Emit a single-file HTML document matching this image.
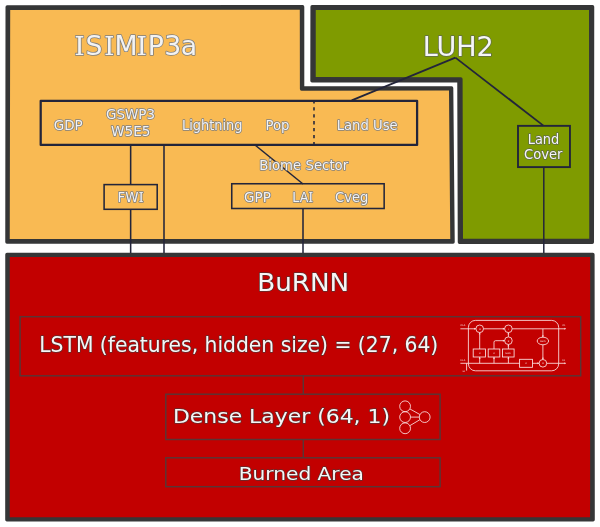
<!DOCTYPE html>
<html lang="en">
<head>
<meta charset="utf-8">
<title>BuRNN architecture</title>
<style>
  html, body { margin: 0; padding: 0; background: #ffffff; }
  body { width: 600px; height: 527px; overflow: hidden; }
  svg { display: block; }
  text { font-family: "DejaVu Sans", "Liberation Sans", sans-serif; fill: #f6f6f6; filter: url(#aa); }
  .t1 { fill: #f3f3f3; stroke: #7d7d7d; stroke-width: 1.55px; paint-order: stroke fill; stroke-linejoin: round; }
  .t2 { stroke: #5e6a4a; stroke-width: 1.5px; paint-order: stroke fill; stroke-linejoin: round; }
  .t3 { stroke: #5a3030; stroke-width: 1.4px; paint-order: stroke fill; stroke-linejoin: round; }
  .ln { stroke: #23253a; stroke-width: 1.55; fill: none; }
  .lg { stroke: #23253a; stroke-width: 1.8; fill: none; }
  .lr { stroke: #583636; stroke-width: 1.45; fill: none; }
  .ic { stroke: #fbe3e3; stroke-width: 0.85; fill: none; }
  .sf { font-family: "DejaVu Serif", "Liberation Serif", serif; }
</style>
</head>
<body>
<svg width="600" height="527" viewBox="0 0 600 527">
  <defs><filter id="aa" x="-5%" y="-30%" width="110%" height="160%"><feOffset dx="0" dy="0"/></filter></defs>
  <rect x="0" y="0" width="600" height="527" fill="#ffffff"/>

  <!-- ISIMIP3a block -->
  <path d="M7.20 6.90 L302.60 6.70 L302.60 87.95 L451.60 87.95 L453.05 241.95 L6.95 241.95 Z" fill="#353637" stroke="#353637" stroke-width="3.4" stroke-linejoin="round"/>
  <path d="M10.2 9.9 L299.8 9.75 L299.9 89.1 Q299.9 90.7 301.5 90.7 L449 90.6 L450.25 239.05 L9.75 239.05 Z" fill="#f9ba53"/>
  <!-- LUH2 block -->
  <path d="M312.10 6.70 L592.55 6.70 L592.30 242.20 L459.45 242.20 L458.95 80.85 L312.00 80.85 Z" fill="#353637" stroke="#353637" stroke-width="3.4" stroke-linejoin="round"/>
  <path d="M315.75 10 L589 10 L589.25 238.75 L463 238.75 L462.6 79 Q462.6 77.2 460.8 77.2 L315.75 77.1 Z" fill="#7f9b00"/>
  <!-- BuRNN block -->
  <path d="M6.95 254.40 L592.90 254.40 L593.10 519.80 L6.90 519.80 Z" fill="#353637" stroke="#353637" stroke-width="3.4" stroke-linejoin="round"/>
  <path d="M9.75 256.9 L590.2 256.9 L590.1 517.2 L9.75 517.2 Z" fill="#c20000"/>

  <!-- connectors in top area -->
  <g class="ln">
    <rect x="40.7" y="100.75" width="376.4" height="44.2" stroke-width="2.25" stroke-linejoin="round"/>
    <rect x="104.1" y="184.6" width="53.1" height="24.7"/>
    <rect x="231.75" y="183.75" width="152.4" height="24.75"/>
    <line x1="130.65" y1="145" x2="130.65" y2="184.6"/>
    <line x1="130.65" y1="209.3" x2="130.65" y2="253"/>
    <line x1="164" y1="145" x2="164" y2="253"/>
    <line x1="255" y1="145" x2="303" y2="184"/>
    <line x1="303" y1="208.5" x2="303" y2="253"/>
    <line x1="314" y1="100.3" x2="314" y2="145" stroke-dasharray="3.3 3.63"/>
  </g>
  <g class="lg">
    <line x1="455.4" y1="57.6" x2="351.7" y2="100.4"/>
    <line x1="455.4" y1="57.6" x2="543.4" y2="125.6"/>
    <rect x="518" y="125.85" width="51.95" height="41.25" stroke-width="1.9"/>
    <line x1="543.8" y1="167.1" x2="543.8" y2="253" stroke-width="1.5"/>
  </g>

  <!-- labels top -->
  <text class="t1" x="74.3 85.6 104.1 114.4 136.5 147.8 164.3 180.8" y="55.4" font-size="26.7"><tspan class="sf">I</tspan>S<tspan class="sf">I</tspan>M<tspan class="sf">I</tspan>P3a</text>
  <text class="t2" x="422.8" y="56.1" font-size="26.7" textLength="71" lengthAdjust="spacingAndGlyphs">LUH2</text>

  <g font-size="13.7">
    <text class="t1" x="53.7" y="129.6" textLength="29" lengthAdjust="spacingAndGlyphs">GDP</text>
    <text class="t1" x="106" y="118.8" textLength="49" lengthAdjust="spacingAndGlyphs">GSWP3</text>
    <text class="t1" x="111" y="135.6" textLength="39.5" lengthAdjust="spacingAndGlyphs">W5E5</text>
    <text class="t1" x="182" y="129.8" textLength="60.5" lengthAdjust="spacingAndGlyphs">Lightning</text>
    <text class="t1" x="265.5" y="129.8" textLength="24" lengthAdjust="spacingAndGlyphs">Pop</text>
    <text class="t1" x="336.7" y="129.8" textLength="61" lengthAdjust="spacingAndGlyphs">Land Use</text>
    <text class="t1" x="259.2" y="170" textLength="89" lengthAdjust="spacingAndGlyphs">Biome Sector</text>
    <text class="t1" x="117.5" y="202" textLength="26.2" lengthAdjust="spacingAndGlyphs">FW<tspan class="sf">I</tspan></text>
    <text class="t1" x="244" y="202.2" textLength="26.8" lengthAdjust="spacingAndGlyphs">GPP</text>
    <text class="t1" x="292.3" y="202.2" textLength="21" lengthAdjust="spacingAndGlyphs">LA<tspan class="sf">I</tspan></text>
    <text class="t1" x="335" y="202.2" textLength="33.3" lengthAdjust="spacingAndGlyphs">Cveg</text>
    <text class="t2" x="527.7" y="143.5" textLength="31.5" lengthAdjust="spacingAndGlyphs">Land</text>
    <text class="t2" x="524" y="159.2" textLength="38.4" lengthAdjust="spacingAndGlyphs">Cover</text>
  </g>

  <!-- red area boxes -->
  <g class="lr">
    <rect x="20.1" y="316.7" width="560.6" height="59.1"/>
    <rect x="165.8" y="394.2" width="274.3" height="45.3"/>
    <rect x="165.8" y="457.8" width="274.3" height="28.9"/>
    <line x1="303.3" y1="375.8" x2="303.3" y2="394.2"/>
    <line x1="303.3" y1="439.5" x2="303.3" y2="457.8"/>
  </g>

  <text class="t3" x="257.2" y="291" font-size="24.1" textLength="92" lengthAdjust="spacingAndGlyphs">BuRNN</text>
  <text class="t3" x="39.3" y="352.4" font-size="20.7" textLength="399" lengthAdjust="spacingAndGlyphs">LSTM (features, hidden size) = (27, 64)</text>
  <text class="t3" x="173" y="423" font-size="19.75" textLength="217" lengthAdjust="spacingAndGlyphs">Dense Layer (64, 1)</text>
  <text class="t3" x="238.8" y="479.6" font-size="18.2" textLength="125.1" lengthAdjust="spacingAndGlyphs">Burned Area</text>

  <!-- dense icon -->
  <g class="ic" stroke-width="0.85">
    <circle cx="405.1" cy="406.3" r="5.4"/>
    <circle cx="405.1" cy="417.1" r="5.4"/>
    <circle cx="405.1" cy="428.3" r="5.4"/>
    <circle cx="424.7" cy="417.1" r="5.4"/>
    <line x1="409.8" y1="408.9" x2="419.9" y2="414.5"/>
    <line x1="410.5" y1="417.1" x2="419.3" y2="417.1"/>
    <line x1="409.8" y1="425.7" x2="419.9" y2="419.7"/>
  </g>

  <!-- LSTM cell icon -->
  <g class="ic">
    <rect x="468.4" y="320.4" width="90.3" height="50.4" rx="7" ry="7"/>
    <line x1="460.4" y1="328.8" x2="475.9" y2="328.8"/>
    <line x1="483.5" y1="328.8" x2="504.6" y2="328.8"/>
    <line x1="512.2" y1="328.8" x2="565" y2="328.8"/>
    <circle cx="479.7" cy="328.8" r="3.8"/>
    <circle cx="508.4" cy="328.8" r="3.8"/>
    <circle cx="508.4" cy="340.7" r="3.8"/>
    <rect x="473.2" y="349" width="12.3" height="8"/>
    <rect x="488.2" y="349" width="11.6" height="8"/>
    <rect x="502.5" y="349" width="11.6" height="8"/>
    <rect x="519.6" y="359.3" width="12.9" height="8"/>
    <line x1="479.7" y1="349" x2="479.7" y2="332.6"/>
    <path d="M494 349 V342.2 Q494 340.7 495.5 340.7 H504.6"/>
    <line x1="508.4" y1="349" x2="508.4" y2="344.5"/>
    <line x1="508.4" y1="336.9" x2="508.4" y2="332.6"/>
    <line x1="460.4" y1="363.3" x2="519.6" y2="363.3"/>
    <line x1="479.7" y1="363.3" x2="479.7" y2="357"/>
    <line x1="494" y1="363.3" x2="494" y2="357"/>
    <line x1="508.4" y1="363.3" x2="508.4" y2="357"/>
    <line x1="532.5" y1="363.3" x2="539.1" y2="363.3"/>
    <line x1="546.7" y1="363.3" x2="565" y2="363.3"/>
    <circle cx="542.9" cy="363.3" r="3.8"/>
    <ellipse cx="542.9" cy="341" rx="5.7" ry="3.8"/>
    <line x1="542.9" y1="328.8" x2="542.9" y2="337.2"/>
    <line x1="542.9" y1="344.8" x2="542.9" y2="359.5"/>
    <path d="M466.6 363.3 V370.6"/>
  </g>
  <g fill="#fbe3e3" stroke="none">
    <path d="M475.90 328.80 L474.20 327.85 L474.20 329.75 Z"/>
    <path d="M504.60 328.80 L502.90 327.85 L502.90 329.75 Z"/>
    <path d="M479.70 332.60 L478.75 334.30 L480.65 334.30 Z"/>
    <path d="M508.40 332.60 L507.45 334.30 L509.35 334.30 Z"/>
    <path d="M504.60 340.70 L502.90 339.75 L502.90 341.65 Z"/>
    <path d="M508.40 344.50 L507.45 346.20 L509.35 346.20 Z"/>
    <path d="M479.70 357.00 L478.75 358.70 L480.65 358.70 Z"/>
    <path d="M494.00 357.00 L493.05 358.70 L494.95 358.70 Z"/>
    <path d="M508.40 357.00 L507.45 358.70 L509.35 358.70 Z"/>
    <path d="M539.10 363.30 L537.40 362.35 L537.40 364.25 Z"/>
    <path d="M542.90 359.50 L541.95 357.80 L543.85 357.80 Z"/>
    <path d="M542.90 337.20 L541.95 335.50 L543.85 335.50 Z"/>
    <path d="M566.20 328.80 L564.50 327.85 L564.50 329.75 Z"/>
    <path d="M566.20 363.30 L564.50 362.35 L564.50 364.25 Z"/>
  </g>
  <g font-size="2.4" fill="#f6cccc">
    <text x="460.6" y="326.4">Ct-1</text>
    <text x="460.6" y="361">ht-1</text>
    <text x="462.4" y="371.6">xt</text>
    <text x="562.5" y="326.4">Ct</text>
    <text x="562.5" y="361">ht</text>
    <text x="478.9" y="329.6">×</text>
    <text x="507.6" y="329.6">+</text>
    <text x="507.6" y="341.5">×</text>
    <text x="542.1" y="364.1">×</text>
    <text x="478.9" y="353.8">σ</text>
    <text x="493.2" y="353.8">σ</text>
    <text x="505.4" y="353.8">tanh</text>
    <text x="525.3" y="364.1">σ</text>
    <text x="540" y="341.8">tanh</text>
  </g>
</svg>
</body>
</html>
